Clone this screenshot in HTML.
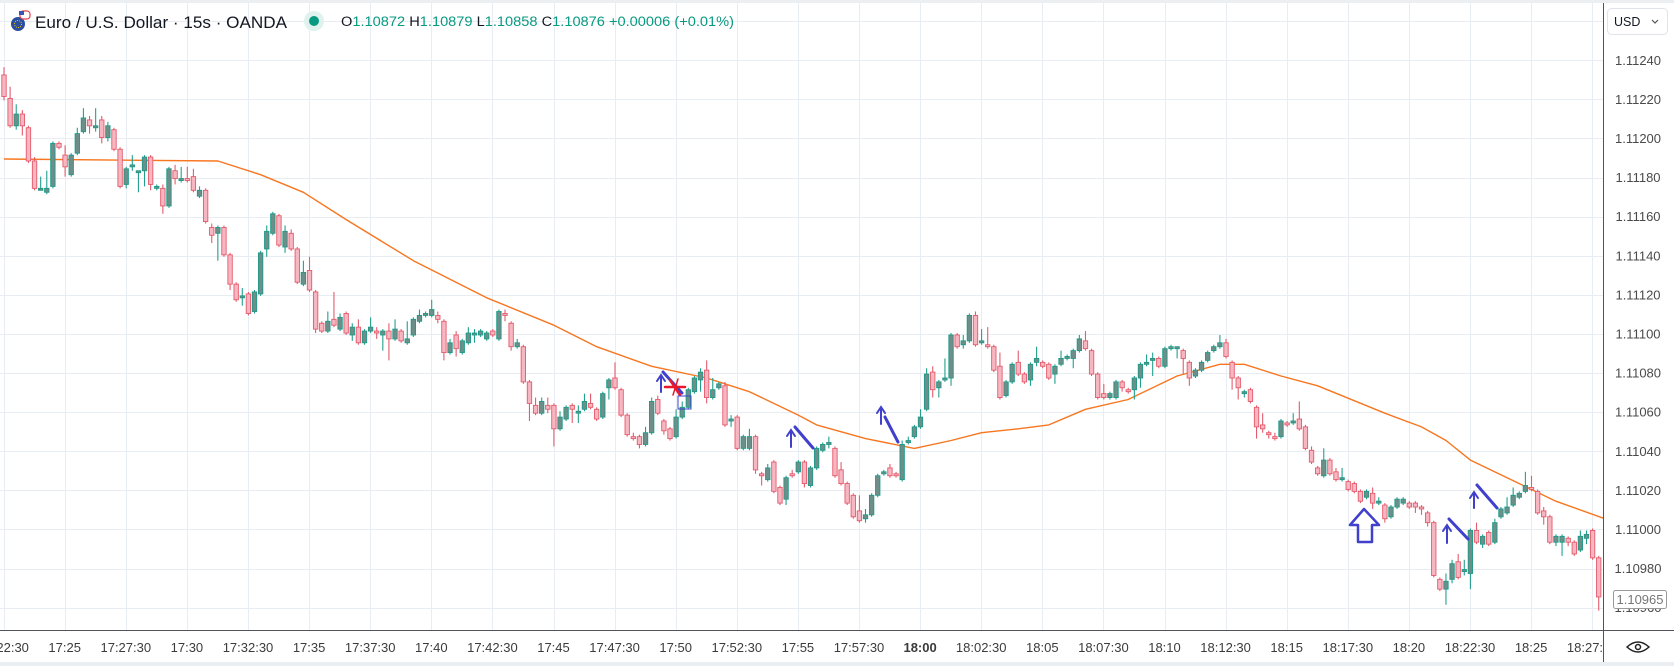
<!DOCTYPE html>
<html><head><meta charset="utf-8"><style>
html,body{margin:0;padding:0;background:#fff;}
svg{display:block;font-family:"Liberation Sans",sans-serif;}
</style></head><body>
<svg id="chart" width="1674" height="666" viewBox="0 0 1674 666" xmlns="http://www.w3.org/2000/svg">
<rect x="0" y="0" width="1674" height="666" fill="#ffffff"/>
<rect x="0" y="0" width="1674" height="3" fill="#eceff2"/>
<g id="grid"></g>
<polyline id="ma" fill="none" stroke="#f7761f" stroke-width="1.4" stroke-linejoin="round"/>
<g id="candles"></g>
<g id="annotations" fill="none" stroke-linecap="round">
<g stroke="#4040cc" stroke-width="2">
<line x1="661" y1="392" x2="661" y2="376"/><polyline points="657,381 661,375 665,381"/>
<line x1="663" y1="372" x2="682" y2="393" stroke-width="3"/>
</g>
<g stroke="#e8192c" stroke-width="2.5">
<line x1="665" y1="387" x2="685" y2="387"/><line x1="670" y1="380" x2="680" y2="395"/><line x1="678" y1="379" x2="673" y2="395" stroke-width="1.5"/>
</g>
<rect x="678" y="396" width="13" height="13" stroke="#4040cc" stroke-width="1"/>
<g stroke="#4040cc" stroke-width="2">
<line x1="791" y1="447" x2="791" y2="431"/><polyline points="787,436 791,430 795,436"/>
<line x1="795" y1="427" x2="813" y2="448" stroke-width="3"/>
</g>
<g stroke="#4040cc" stroke-width="2">
<line x1="881" y1="424" x2="881" y2="408"/><polyline points="877,413 881,407 885,413"/>
<line x1="885" y1="417" x2="898" y2="442" stroke-width="3"/>
</g>
<polygon points="1364,509 1350,525 1358,525 1358,542 1372,542 1372,525 1379,525" stroke="#4040cc" stroke-width="2.5" stroke-linejoin="round"/>
<g stroke="#4040cc" stroke-width="2">
<line x1="1447" y1="543" x2="1447" y2="527"/><polyline points="1443,531 1447,525 1451,531"/>
<line x1="1449" y1="519" x2="1468" y2="539" stroke-width="3"/>
</g>
<g stroke="#4040cc" stroke-width="2">
<line x1="1474" y1="508" x2="1474" y2="493"/><polyline points="1470,498 1474,492 1478,498"/>
<line x1="1477" y1="485" x2="1497" y2="508" stroke-width="3"/>
</g>
</g>
<rect x="1604" y="3" width="70" height="663" fill="#ffffff"/>
<rect x="0" y="631" width="1674" height="35" fill="#ffffff"/>
<line x1="0" y1="630.5" x2="1674" y2="630.5" stroke="#50535e" stroke-width="1"/>
<line x1="1603.5" y1="3" x2="1603.5" y2="666" stroke="#50535e" stroke-width="1"/>
<rect x="0" y="662" width="1674" height="4" fill="#eceff2"/>
<g id="yticks" font-size="13" fill="#4a4a4a" text-anchor="middle"></g>
<g id="xticks" font-size="13" fill="#3b3b3b" text-anchor="middle"></g>
<rect x="1604" y="631" width="70" height="31" fill="#ffffff"/>
<g>
<rect x="1613.5" y="590.5" width="53" height="18" rx="2" fill="#ffffff" stroke="#9a9a9a"/>
<text x="1640" y="604" font-size="13" fill="#777" text-anchor="middle">1.10965</text>
</g>
<g>
<rect x="1607.5" y="8.5" width="60" height="26" rx="4" fill="#fff" stroke="#e0e3eb"/>
<text x="1614" y="26" font-size="12.5" fill="#131722">USD</text>
<polyline points="1652,20 1655,23 1658,20" fill="none" stroke="#555" stroke-width="1.2"/>
</g>
<g fill="none" stroke="#222" stroke-width="1.5">
<path d="M1627,647 Q1638,637 1649,647 Q1638,657 1627,647 Z"/><circle cx="1638" cy="647" r="2.5"/>
</g>
<g>
<g>
<circle cx="18" cy="24" r="7" fill="#2a4f9e"/>
<circle cx="18" cy="24" r="3.5" fill="none" stroke="#f5c400" stroke-width="1" stroke-dasharray="1 1.2"/>
<rect x="20" y="11" width="10" height="8" rx="3" fill="#ffffff" stroke="#e04050" stroke-width="1.2"/>
<rect x="19" y="11" width="5" height="4" fill="#3a57b0"/>
</g>
<text x="35" y="28" font-size="16.5" fill="#131722" textLength="252" lengthAdjust="spacingAndGlyphs">Euro / U.S. Dollar · 15s · OANDA</text>
<circle cx="314" cy="21" r="10" fill="#dff2ee"/>
<circle cx="314" cy="21" r="5" fill="#089981"/>
<text x="341" y="26" font-size="13.5" fill="#089981" textLength="393" lengthAdjust="spacingAndGlyphs"><tspan fill="#131722">O</tspan>1.10872 <tspan fill="#131722">H</tspan>1.10879 <tspan fill="#131722">L</tspan>1.10858 <tspan fill="#131722">C</tspan>1.10876 +0.00006 (+0.01%)</text>
</g>
</svg>
<script>
// prices in 1e-5 units above PRICE_BASE
var PRICE_BASE = 1.000185;
var opens = [11214,11202,11188,11194,11187,11170,11155,11154,11157,11179,11173,11163,11174,11185,11191,11187,11191,11182,11186,11176,11158,11167,11164,11165,11172,11156,11156,11147,11165,11160,11161,11162,11152,11155,11136,11133,11136,11122,11107,11100,11102,11093,11102,11125,11133,11142,11126,11133,11125,11107,11114,11103,11087,11083,11089,11084,11092,11081,11085,11077,11083,11083,11081,11083,11079,11083,11077,11081,11088,11091,11091,11091,11088,11072,11081,11072,11077,11081,11081,11079,11083,11079,11092,11087,11075,11075,11057,11045,11041,11045,11045,11033,11038,11045,11041,11043,11046,11043,11039,11054,11059,11053,11040,11029,11029,11025,11031,11048,11037,11033,11029,11039,11044,11052,11058,11063,11049,11054,11055,11037,11039,11023,11023,11029,11010,11007,11016,11003,10997,11010,11011,11016,11004,11013,11022,11025,11023,11012,11005,10999,10991,10987,10989,10999,11010,11013,11010,11007,11026,11029,11034,11043,11062,11054,11058,11059,11081,11076,11078,11091,11077,11076,11075,11065,11050,11057,11067,11061,11058,11067,11067,11066,11061,11066,11069,11069,11073,11078,11073,11061,11051,11049,11049,11057,11053,11053,11059,11066,11068,11069,11065,11074,11074,11073,11067,11060,11063,11068,11073,11075,11077,11067,11059,11051,11053,11044,11035,11031,11029,11029,11036,11036,11038,11034,11022,11013,11009,11017,11011,11007,11006,11005,11001,10998,11000,10995,10994,10988,10993,10995,10995,10995,10993,10990,10985,10956,10951,10956,10965,10960,10959,10981,10974,10980,10975,10988,10990,10994,10998,11001,11003,11001,10991,10988,10975,10975,10977,10975,10971,10977,10981,10967];
var highs = [11218,11208,11199,11196,11188,11172,11162,11165,11180,11180,11178,11174,11187,11197,11193,11197,11193,11190,11187,11177,11167,11173,11165,11173,11173,11158,11158,11167,11168,11167,11167,11166,11157,11156,11138,11137,11137,11123,11108,11105,11103,11104,11124,11137,11144,11143,11137,11135,11126,11119,11121,11104,11088,11093,11103,11092,11093,11087,11089,11084,11090,11085,11084,11087,11089,11084,11088,11090,11094,11093,11099,11093,11089,11079,11083,11079,11085,11084,11084,11083,11084,11094,11094,11088,11079,11076,11058,11049,11049,11049,11046,11042,11045,11046,11045,11051,11051,11044,11052,11059,11067,11054,11041,11031,11030,11034,11049,11050,11038,11034,11043,11047,11054,11060,11064,11068,11059,11057,11057,11040,11040,11030,11033,11030,11011,11015,11017,11004,11009,11012,11017,11017,11014,11024,11026,11029,11024,11016,11006,11000,10999,10992,11000,11010,11012,11015,11011,11027,11029,11035,11043,11064,11065,11058,11069,11082,11082,11081,11092,11093,11084,11085,11076,11072,11058,11067,11073,11062,11067,11075,11068,11067,11066,11073,11071,11074,11081,11083,11074,11062,11056,11052,11058,11058,11054,11060,11067,11071,11072,11070,11075,11076,11075,11074,11068,11064,11068,11073,11076,11081,11079,11068,11060,11053,11054,11045,11041,11032,11031,11038,11037,11041,11047,11035,11024,11014,11023,11018,11013,11013,11007,11006,11002,11002,11003,10998,10995,10994,10998,10998,10996,10996,10994,10991,10986,10957,10959,10966,10969,10966,10982,10985,10979,10981,10987,10993,10998,11003,11001,11011,11009,11002,10993,10989,10979,10979,10978,10976,10981,10981,10982,10968];
var lows = [11201,11187,11186,11183,11169,11155,11155,11153,11156,11176,11162,11162,11173,11184,11184,11185,11179,11180,11175,11156,11156,11165,11154,11157,11155,11155,11143,11146,11158,11159,11159,11154,11151,11138,11128,11119,11121,11104,11098,11096,11091,11092,11101,11121,11132,11126,11123,11124,11107,11106,11103,11082,11082,11082,11085,11083,11081,11078,11076,11076,11082,11079,11073,11068,11078,11077,11076,11080,11087,11090,11090,11087,11068,11071,11070,11071,11076,11077,11080,11078,11080,11078,11088,11073,11074,11056,11037,11040,11040,11041,11024,11032,11037,11036,11036,11042,11043,11037,11038,11048,11053,11039,11029,11027,11023,11024,11030,11040,11030,11027,11028,11038,11043,11051,11052,11046,11048,11053,11034,11034,11022,11022,11022,11010,11004,11006,11000,10994,10994,11008,11010,11003,11003,11012,11021,11023,11008,11004,10994,10987,10985,10985,10988,10998,11009,11008,11008,11006,11025,11028,11033,11042,11049,11049,11057,11055,11074,11074,11077,11075,11076,11074,11062,11048,11049,11056,11060,11056,11055,11065,11064,11058,11056,11065,11068,11064,11072,11073,11060,11048,11048,11048,11048,11052,11051,11048,11054,11065,11060,11064,11064,11073,11069,11061,11055,11059,11062,11067,11072,11074,11069,11053,11048,11049,11046,11028,11031,11028,11027,11028,11034,11035,11032,11022,11015,11009,11008,11009,11006,11006,11001,11000,10995,10997,10992,10994,10985,10987,10992,10994,10992,10990,10989,10983,10957,10950,10943,10954,10956,10958,10951,10974,10972,10973,10974,10987,10989,10993,10997,11000,11001,10989,10984,10974,10973,10968,10973,10968,10970,10974,10966,10940];
var closes = [11203,11188,11194,11188,11170,11156,11156,11156,11179,11177,11167,11173,11184,11192,11188,11188,11182,11188,11176,11157,11166,11168,11165,11172,11158,11157,11147,11166,11161,11161,11160,11155,11155,11139,11132,11136,11122,11107,11099,11101,11092,11103,11123,11134,11143,11127,11134,11125,11108,11113,11104,11084,11083,11088,11086,11090,11082,11085,11077,11083,11085,11082,11083,11079,11084,11078,11079,11089,11091,11092,11094,11089,11072,11077,11074,11078,11082,11082,11083,11082,11081,11093,11091,11075,11077,11057,11046,11041,11047,11043,11033,11039,11044,11043,11042,11047,11044,11038,11051,11058,11054,11040,11030,11028,11025,11031,11047,11041,11032,11028,11039,11044,11053,11059,11062,11049,11053,11056,11035,11038,11023,11029,11029,11012,11009,11013,11001,10995,11008,11009,11016,11005,11013,11023,11025,11026,11009,11005,10995,10988,10986,10989,10999,11009,11011,11009,11009,11025,11027,11034,11039,11061,11053,11057,11059,11081,11075,11078,11091,11076,11078,11075,11063,11049,11057,11066,11061,11057,11066,11069,11065,11059,11065,11069,11070,11073,11079,11074,11061,11049,11049,11051,11057,11054,11052,11059,11066,11067,11069,11065,11074,11075,11075,11069,11059,11063,11067,11072,11075,11077,11070,11059,11054,11052,11047,11034,11033,11030,11028,11037,11035,11037,11033,11023,11016,11010,11017,11010,11007,11008,11002,11001,10996,11001,10995,10996,10987,10993,10997,10997,10993,10993,10992,10985,10958,10951,10955,10964,10957,10961,10981,10975,10978,10974,10985,10992,10993,10999,11000,11004,11002,10990,10988,10975,10978,10978,10975,10969,10978,10979,10967,10947];
// moving average samples: candle index and value (1e-5 above PRICE_BASE)
var maIndex = [0,35,42,49,56,67,79,90,97,106,115,122,130,133,141,149,155,160,166,171,177,184,192,199,203,209,215,226,232,236,240,248,254,262];
var maValue = [11171,11170,11163,11154,11140,11119,11100,11086,11075,11065,11059,11052,11040,11035,11028,11023,11027,11031,11033,11035,11043,11048,11060,11066,11066,11060,11055,11041,11034,11027,11017,11005,10996,10987];
var priceTicks = [1.1096,1.1098,1.1100,1.1102,1.1104,1.1106,1.1108,1.1110,1.1112,1.1114,1.1116,1.1118,1.1120,1.1122,1.1124];
var timeTicks = ["17:22:30","17:25","17:27:30","17:30","17:32:30","17:35","17:37:30","17:40","17:42:30","17:45","17:47:30","17:50","17:52:30","17:55","17:57:30","18:00","18:02:30","18:05","18:07:30","18:10","18:12:30","18:15","18:17:30","18:20","18:22:30","18:25","18:27:30"];
var timeTickIndex = [0,10,20,30,40,50,60,70,80,90,100,110,120,130,140,150,160,170,180,190,200,210,220,230,240,250,260];

var NS = "http://www.w3.org/2000/svg";
function xPx(i){ return 4 + 6.11*i; }
function yPrice(p){ return 60.3 + (1.1124 - p)/0.0002*39.1; }
function yVal(v){ return yPrice(PRICE_BASE + v/1e5); }
function mk(tag, attrs, parent){ var e=document.createElementNS(NS,tag); for(var k in attrs){ e.setAttribute(k, String(attrs[k])); } parent.appendChild(e); return e; }

var cg = document.getElementById('candles');
for (var i=0;i<opens.length;i++){
  var o=opens[i], h=highs[i], l=lows[i], c=closes[i];
  var up = c>=o;
  var cx = xPx(i);
  var g = mk('g',{},cg);
  
  
  mk('line',{x1:cx,y1:yVal(h),x2:cx,y2:yVal(l),stroke: up?'#22a08e':'#e35d6e','stroke-width':1.1},g);
  var bodyTop = yVal(Math.max(o,c)), bodyBot = yVal(Math.min(o,c));
  mk('rect',{x:cx-2.2,y:bodyTop,width:4.4,height:Math.max(1.2,bodyBot-bodyTop),fill: up?'#6e8e89':'#f7b7c2',stroke: up?'#1f9a88':'#e55a6b','stroke-width':0.9},g);
}
var pts = [];
for (var k=0;k<maIndex.length;k++){ pts.push(xPx(maIndex[k]).toFixed(1)+','+yVal(maValue[k]).toFixed(1)); }
document.getElementById('ma').setAttribute('points', pts.join(' '));

var grid = document.getElementById('grid');
var yt = document.getElementById('yticks');
var gridPrices = priceTicks.concat([1.1126]);
for (var a=0;a<gridPrices.length;a++){
  var yy = Math.round(yPrice(gridPrices[a]))+0.5;
  var gl = mk('line',{x1:0,y1:yy,x2:1603,y2:yy,stroke:'#e8edf3','stroke-width':1},grid);
  
  
}
for (var b=0;b<priceTicks.length;b++){
  var t = mk('text',{x:1638,y:yPrice(priceTicks[b])+4.5},yt);
  t.textContent = priceTicks[b].toFixed(5);
  
  
}
var xt = document.getElementById('xticks');
for (var q=0;q<timeTicks.length;q++){
  var xx = xPx(timeTickIndex[q]) - 0.4;
  var vl = mk('line',{x1:Math.round(xx)+0.5,y1:3,x2:Math.round(xx)+0.5,y2:630,stroke:'#e8edf3','stroke-width':1},grid);
  
  
  var tt = mk('text',{x:xx,y:652},xt);
  if (timeTicks[q] === "18:00") tt.setAttribute('font-weight','bold');
  tt.textContent = timeTicks[q];
  
  
}
</script>
</body></html>
